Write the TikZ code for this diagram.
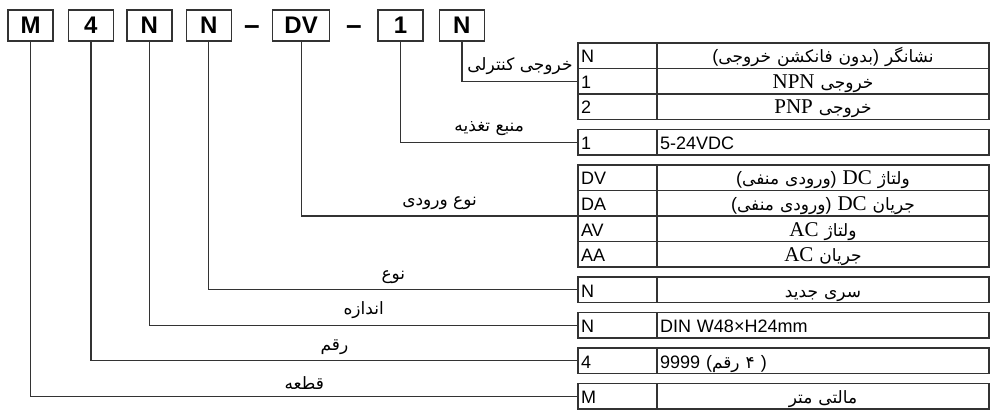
\documentclass[tikz,border=0pt]{standalone}
\usepackage{fontspec}
\setmainfont{Liberation Sans}
\newfontfamily\farsifont[Script=Arabic]{DejaVu Sans}
\newfontfamily\serifpart{Liberation Serif}
\TeXXeTstate=1
\usetikzlibrary{positioning,calc}
\definecolor{linegray}{HTML}{333333}

\newcommand{\fa}[1]{{\farsifont\fontsize{17}{17}\selectfont\beginR #1\endR}}
\newcommand{\lat}[1]{{\serifpart\fontsize{21}{21}\selectfont #1}}

\tikzset{
  keybox/.style={draw=linegray, line width=1.4pt, minimum width=45pt,
    minimum height=31pt, inner sep=0pt,
    font=\fontsize{24}{24}\selectfont\bfseries},
  sep/.style={anchor=base, font=\fontsize{28}{28}\selectfont\bfseries},
  cell/.style={draw=linegray, line width=1.1pt, outer sep=0pt,
    inner xsep=3pt, inner ysep=0pt, minimum height=25.5pt,
    text height=16pt, text depth=1.5pt, font=\fontsize{18}{18}\selectfont},
  code/.style={cell, text width=73pt, align=left},
  desc/.style={cell, text width=326pt, align=center},
  descl/.style={desc, align=left},
  wire/.style={draw=linegray, line width=1.2pt},
  lbl/.style={above=5pt, inner sep=1pt},
}

\begin{document}
\begin{tikzpicture}[x=1pt, y=-1pt]
  \useasboundingbox (0,0) rectangle (996,417);

  % model code
  \node (km) [keybox] at (30.5,25.5) {M};
  \node (k4) [keybox, right=14pt of km] {4};
  \node (kn1) [keybox, right=12pt of k4] {N};
  \node (kn2) [keybox, right=13pt of kn1] {N};
  \node (kdv) [keybox, minimum width=57pt, right=40pt of kn2] {DV};
  \node (k1) [keybox, right=47pt of kdv] {1};
  \node (kn3) [keybox, right=15pt of k1] {N};
  \node (dsh1) [sep] at ($(kn2.east)!0.5!(kdv.west)+(0,9)$) {–};
  \node (dsh2) [sep] at ($(kdv.east)!0.5!(k1.west)+(0,9)$) {–};

  % control output
  \node (outn) [code, anchor=north west] at (578,43) {N};
  \node (outnt) [desc, right=0pt of outn] {(\fa{بدون فانکشن خروجی}) \fa{نشانگر}};
  \node (outa) [code, below=0pt of outn] {1};
  \node (outat) [desc, right=0pt of outa] {\lat{NPN} \fa{خروجی}};
  \node (outb) [code, below=0pt of outa] {2};
  \node (outbt) [desc, right=0pt of outb] {\lat{PNP} \fa{خروجی}};

  % power supply
  \node (pwr) [code, below=10pt of outb] {1};
  \node (pwrt) [descl, right=0pt of pwr] {5-24VDC};

  % input type
  \node (inpdv) [code, below=10pt of pwr] {DV};
  \node (inpdvt) [desc, right=0pt of inpdv] {(\fa{ورودی منفی}) \lat{DC} \fa{ولتاژ}};
  \node (inpda) [code, below=0pt of inpdv] {DA};
  \node (inpdat) [desc, right=0pt of inpda] {(\fa{ورودی منفی}) \lat{DC} \fa{جریان}};
  \node (inpav) [code, below=0pt of inpda] {AV};
  \node (inpavt) [desc, right=0pt of inpav] {\lat{AC} \fa{ولتاژ}};
  \node (inpaa) [code, below=0pt of inpav] {AA};
  \node (inpaat) [desc, right=0pt of inpaa] {\lat{AC} \fa{جریان}};

  % series, size, digits, item
  \node (ser) [code, below=10pt of inpaa] {N};
  \node (sert) [desc, right=0pt of ser] {\fa{سری جدید}};
  \node (siz) [code, below=10pt of ser] {N};
  \node (sizt) [descl, right=0pt of siz] {DIN W48×H24mm};
  \node (dig) [code, below=10pt of siz] {4};
  \node (digt) [descl, right=0pt of dig] {9999 (\fa{۴ رقم} )};
  \node (itm) [code, below=10pt of dig] {M};
  \node (itmt) [desc, right=0pt of itm] {\fa{مالتی متر}};

  % connectors
  \draw [wire] (kn3.south) |- (outa.west) node [lbl, pos=0.75] {\fa{خروجی کنترلی}};
  \draw [wire] (k1.south) |- (pwr.west) node [lbl, pos=0.75] {\fa{منبع تغذیه}};
  \draw [wire] (kdv.south) |- (inpda.south west) node [lbl, pos=0.75] {\fa{نوع ورودی}};
  \draw [wire] (kn2.south) |- (ser.west) node [lbl, pos=0.75] {\fa{نوع}};
  \draw [wire] (kn1.south) |- (siz.west) node [lbl, pos=0.75] {\fa{اندازه}};
  \draw [wire] (k4.south) |- (dig.west) node [lbl, pos=0.75] {\fa{رقم}};
  \draw [wire] (km.south) |- (itm.west) node [lbl, pos=0.75] {\fa{قطعه}};
\end{tikzpicture}
\end{document}
